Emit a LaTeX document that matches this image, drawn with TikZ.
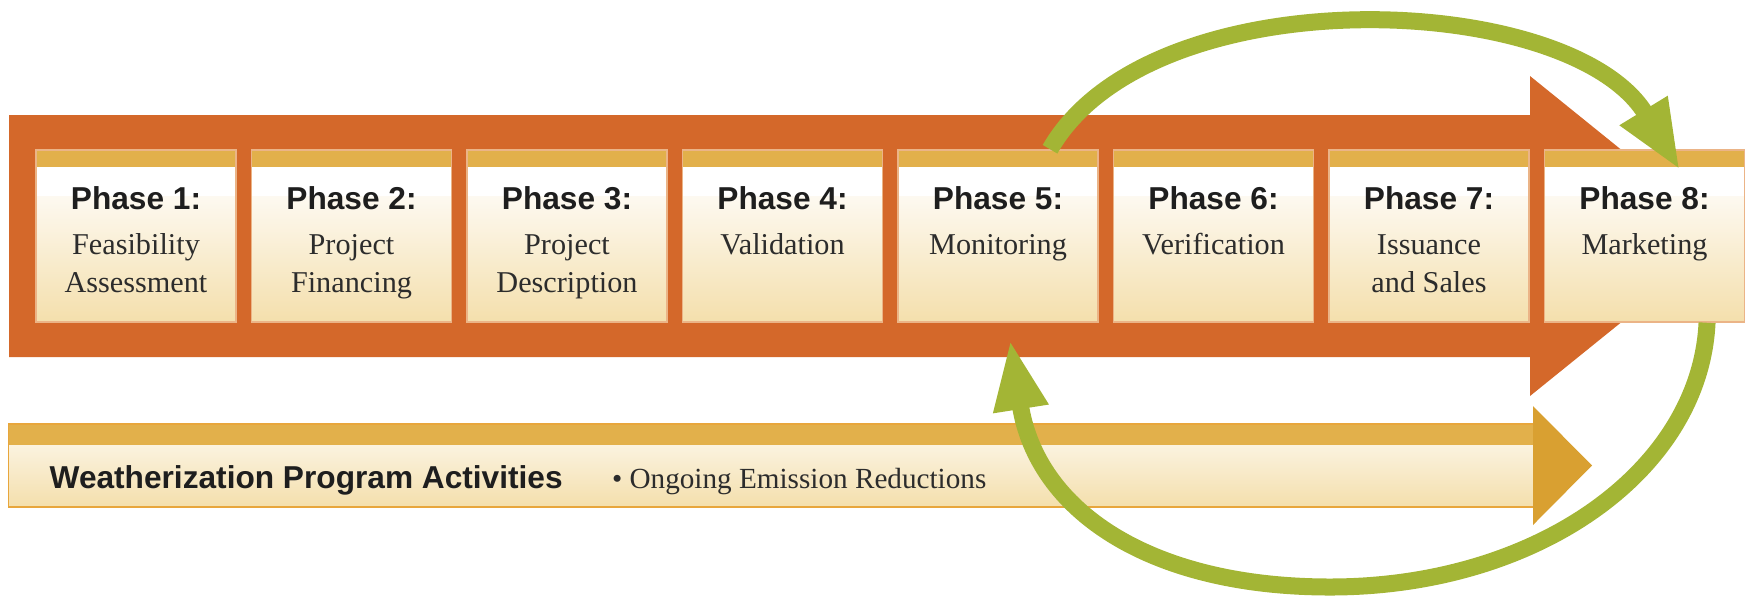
\documentclass[tikz,border=0pt]{standalone}
\usepackage{fontspec}
\setmainfont{Liberation Serif}
\setsansfont{Liberation Sans}
\usepackage{tikz}
\usetikzlibrary{arrows.meta}

\definecolor{rust}{HTML}{D4682A}
\definecolor{gold}{HTML}{E2B04B}
\definecolor{goldhead}{HTML}{D9A031}
\definecolor{cream}{HTML}{FDF9F0}
\definecolor{tan}{HTML}{F4DFAC}
\definecolor{boxedge}{HTML}{EBB487}
\definecolor{leaf}{HTML}{A3B535}
\definecolor{ink}{HTML}{1E1E1E}
\definecolor{softink}{HTML}{2C2C2C}

\begin{document}
\begin{tikzpicture}[x=0.01cm, y=-0.01cm,
		phase_style/.style={rectangle,draw=boxedge,line width=0.4pt,minimum width=2cm,minimum height=1.72cm,inner sep=0pt,
			path picture={
				\fill[white] (path picture bounding box.north west) rectangle (path picture bounding box.south east);
				\shade[top color=cream,bottom color=tan] ([yshift=-4.7mm]path picture bounding box.north west) rectangle (path picture bounding box.south east);
				\fill[gold] (path picture bounding box.north west) rectangle ([yshift=-1.7mm]path picture bounding box.north east);
			}},
		bar_style/.style={rectangle,draw=gold!80!orange,line width=0.4pt,minimum width=15.24cm,minimum height=0.83cm,inner sep=0pt,
			path picture={
				\shade[top color=cream,bottom color=tan] (path picture bounding box.north west) rectangle (path picture bounding box.south east);
				\fill[gold] (path picture bounding box.north west) rectangle ([yshift=-2.1mm]path picture bounding box.north east);
			}},
		head_style/.style={anchor=base,inner sep=0pt,text=ink,font=\sffamily\bfseries\fontsize{9}{11}\selectfont},
		desc_style/.style={anchor=base,inner sep=0pt,align=center,text=softink,font=\fontsize{8.6}{10.8}\selectfont},
		loop_style/.style={draw=leaf,line width=1.7mm,-{Triangle[length=7mm,width=5.1mm]}}]

		\useasboundingbox (0,0) rectangle (1748,596);

		% main process arrow
		\fill[rust] (9,115) -- (1530,115) -- (1530,76) -- (1728,236) -- (1530,396) -- (1530,357) -- (9,357) -- cycle;

		% ongoing activities bar
		\node[bar_style] (bar) at (771,465.5) {};
		\fill[goldhead] (1533,406) -- (1592,465.5) -- (1533,525) -- cycle;
		\node[anchor=base west,inner sep=0pt,text=ink,font=\sffamily\bfseries\fontsize{9}{11}\selectfont] (wpa) at (49,488) {Weatherization Program Activities};
		\node[anchor=base west,inner sep=0pt,text=softink,font=\fontsize{8.3}{10.8}\selectfont] (ongoing) at ([xshift=4.8mm]wpa.base east) {\textbullet\ Ongoing Emission Reductions};

		% phases
		\node[phase_style] (p1) at (136,236) {};
		\node[phase_style] (p2) at (351.5,236) {};
		\node[phase_style] (p3) at (567,236) {};
		\node[phase_style] (p4) at (782.5,236) {};
		\node[phase_style] (p5) at (998,236) {};
		\node[phase_style] (p6) at (1213.5,236) {};
		\node[phase_style] (p7) at (1429,236) {};
		\node[phase_style] (p8) at (1644.5,236) {};

		\node[head_style] (h1) at ([yshift=-6mm]p1.north) {Phase 1:};
		\node[head_style] (h2) at ([yshift=-6mm]p2.north) {Phase 2:};
		\node[head_style] (h3) at ([yshift=-6mm]p3.north) {Phase 3:};
		\node[head_style] (h4) at ([yshift=-6mm]p4.north) {Phase 4:};
		\node[head_style] (h5) at ([yshift=-6mm]p5.north) {Phase 5:};
		\node[head_style] (h6) at ([yshift=-6mm]p6.north) {Phase 6:};
		\node[head_style] (h7) at ([yshift=-6mm]p7.north) {Phase 7:};
		\node[head_style] (h8) at ([yshift=-6mm]p8.north) {Phase 8:};

		% two-line texts sit on their last line
		\node[desc_style] (d1) at ([yshift=-14.3mm]p1.north) {Feasibility\\Assessment};
		\node[desc_style] (d2) at ([yshift=-14.3mm]p2.north) {Project\\Financing};
		\node[desc_style] (d3) at ([yshift=-14.3mm]p3.north) {Project\\Description};
		\node[desc_style] (d4) at ([yshift=-10.5mm]p4.north) {Validation};
		\node[desc_style] (d5) at ([yshift=-10.5mm]p5.north) {Monitoring};
		\node[desc_style] (d6) at ([yshift=-10.5mm]p6.north) {Verification};
		\node[desc_style] (d7) at ([yshift=-14.3mm]p7.north) {Issuance\\and Sales};
		\node[desc_style] (d8) at ([yshift=-10.5mm]p8.north) {Marketing};

		% feedback loops between monitoring and marketing
		\draw[loop_style] ([xshift=5.2mm]p5.north) .. controls (1150,-25) and (1570,-10) .. ([xshift=3.55mm,yshift=-2.1mm]p8.north);
		\draw[loop_style] ([xshift=6.25mm]p8.south) .. controls (1700,470) and (1538,587) .. (1330,587)
			.. controls (1150,587) and (1037,511) .. ([xshift=1.2mm,yshift=-1.7mm]p5.south);

\end{tikzpicture}
\end{document}
